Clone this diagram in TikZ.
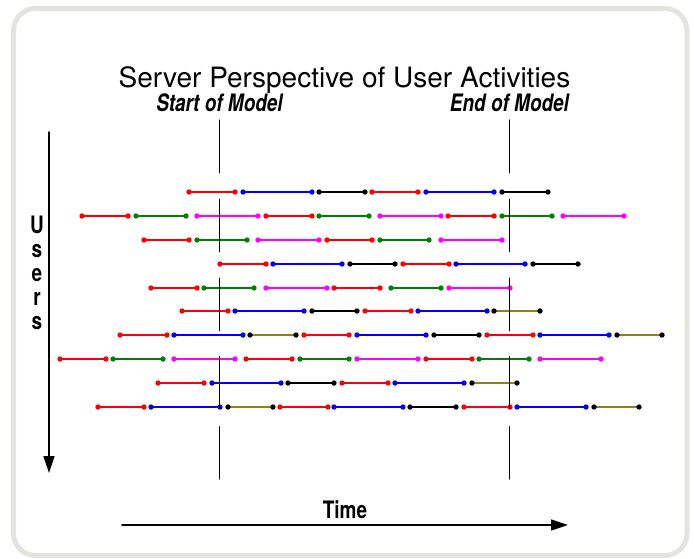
\documentclass[tikz,border=0pt]{standalone}
\usepackage{fontspec}
\setmainfont{TeX Gyre Heros}
\usetikzlibrary{arrows.meta}
\definecolor{framegray}{RGB}{228,228,222}
\definecolor{pinkline}{RGB}{255,0,255}
\newcommand{\narrow}[1]{\scalebox{0.79}[1]{#1}}

\begin{document}
\begin{tikzpicture}[x=1pt, y=-1pt, line cap=round, line join=round,
  >={Triangle[length=17pt,width=11pt]},
  heading/.style={font=\fontsize{28}{30}\selectfont, anchor=base, inner sep=0pt},
  tag/.style={font=\fontsize{24}{26}\selectfont\bfseries, anchor=base, inner sep=0pt},
  seg/.style={line width=1.8pt},
  bound/.style={line width=1.3pt},
  axisline/.style={line width=1.5pt, ->},
  sred/.style={draw=red, fill=red},
  sblu/.style={draw=blue, fill=blue},
  sblk/.style={draw=black, fill=black},
  sgrn/.style={draw=green!50!black, fill=green!50!black},
  smag/.style={draw=pinkline, fill=pinkline},
  solv/.style={draw=olive, fill=black}]
  \useasboundingbox (0,0) rectangle (694,558);
  \draw[framegray, line width=5pt, rounded corners=22pt] (13.5,8.5) rectangle (687,555.5);

  \node[heading] (title) at (344.5,87) {Server Perspective of User Activities};
  \node[tag] (start) at (219.5,111) {\narrow{\itshape Start of Model}};
  \node[tag] (end) at (509.5,111) {\narrow{\itshape End of Model}};

  % one row of sessions per user
  \foreach \y/\row in {
    192/{189/235/sred, 243/312/sblu, 319/365/sblk, 372/418/sred, 426/494/sblu, 502/548/sblk},
    216/{82/128/sred, 136/186/sgrn, 197/258/smag, 266/312/sred, 319/369/sgrn, 380/441/smag, 448/494/sred, 502/552/sgrn, 563/624/smag},
    240/{144/189/sred, 197/247/sgrn, 258/319/smag, 327/372/sred, 380/429/sgrn, 441/502/smag},
    264/{220/266/sred, 273/342/sblu, 350/395/sblk, 403/449/sred, 456/525/sblu, 533/578/sblk},
    288/{151/197/sred, 204/254/sgrn, 266/327/smag, 334/380/sred, 391/441/sgrn, 449/510/smag},
    311/{182/228/sred, 235/304/sblu, 312/357/sblk, 365/411/sred, 418/487/sblu, 494/540/solv},
    335/{120/167/sred, 174/243/sblu, 250/296/solv, 304/349/sred, 357/426/sblu, 434/479/sblk, 487/533/sred, 540/609/sblu, 617/662/solv},
    359/{60/106/sred, 113/163/sgrn, 174/235/smag, 246/292/sred, 300/349/sgrn, 357/418/smag, 426/472/sred, 479/529/sgrn, 540/601/smag},
    383/{158/204/sred, 212/281/sblu, 288/334/sblk, 342/388/sred, 395/464/sblu, 472/517/solv},
    407/{98/144/sred, 151/220/sblu, 228/273/solv, 280/328/sred, 334/403/sblu, 410/456/sblk, 464/510/sred, 517/586/sblu, 594/639/solv}}{
    \foreach \a/\b/\c in \row {
      \draw[seg,\c] (\a,\y) -- (\b,\y);
      \path[\c,draw=none] (\a,\y) circle (2.7pt) (\b,\y) circle (2.7pt);
    }
  }

  % model window
  \foreach \a/\b in {120/172.7, 199.3/251.7, 278.3/330.7, 356.7/408.3, 426.7/479} {
    \draw[bound] (start.base -| start.center) ++(0,\a-111) -- ++(0,\b-\a);
    \draw[bound] (end.base -| end.center) ++(0,\a-111) -- ++(0,\b-\a);
  }

  \foreach \ch [count=\i from 0] in {U,s,e,r,s}
    \node[tag] (user\i) at (37,233+24.2*\i) {\narrow{\ch}};
  \coordinate (utop) at (49,132);
  \coordinate (ubot) at (49,473);
  \draw[axisline] (utop) -- (ubot);

  \node[tag] (time) at (345,518) {\narrow{Time}};
  \coordinate (tleft) at (122,525);
  \coordinate (tright) at (568,525);
  \draw[axisline] (tleft) -- (tright);
\end{tikzpicture}
\end{document}
